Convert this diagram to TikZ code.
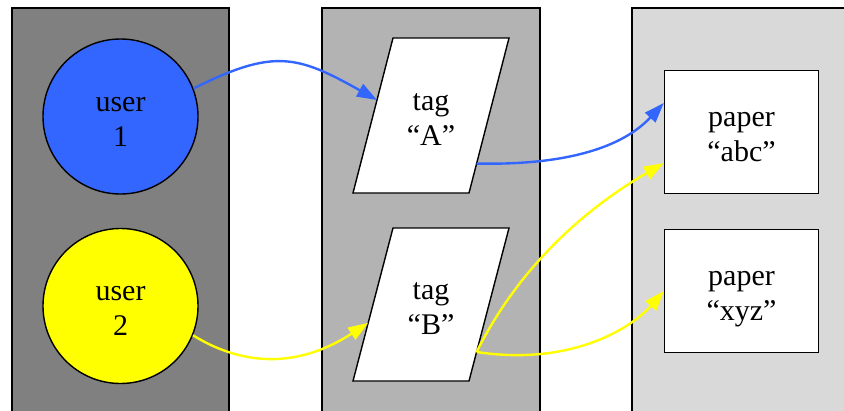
\documentclass[tikz,border=0pt]{standalone}
\usepackage{fontspec}
\setmainfont{Liberation Serif}
\usetikzlibrary{arrows.meta,calc}
\definecolor{colA}{HTML}{808080}
\definecolor{colB}{HTML}{B3B3B3}
\definecolor{colC}{HTML}{D9D9D9}
\definecolor{ublue}{HTML}{3366FF}
\definecolor{uyellow}{HTML}{FFFF00}
\begin{document}
\begin{tikzpicture}[x=1pt,y=-1pt,
  lane/.style={draw=black,line width=1.3pt},
  lbl/.style={align=center,font=\fontsize{30}{35}\selectfont,text=black,text height=59pt,text depth=0pt},
  usernode/.style={lbl,circle,draw=black,line width=1.4pt,minimum size=155pt,inner sep=0pt},
  tagbox/.style={draw=black,fill=white,line width=1.4pt,line join=miter},
  tagnode/.style={lbl,rectangle,inner sep=0pt},
  papernode/.style={lbl,rectangle,draw=black,fill=white,line width=1.4pt,minimum width=154pt,minimum height=123pt,inner sep=0pt},
  link/.style={line width=2.4pt,-{Triangle[length=20pt,width=14pt]}}
]
\clip (0,0) rectangle (844,410);
\draw[lane,fill=colA] (12,8) rectangle (229,430);
\draw[lane,fill=colB] (322,8) rectangle (540,430);
\draw[lane,fill=colC] (632,8) rectangle (870,430);

% tag parallelograms
\coordinate (tAtl) at (393,38);  \coordinate (tAtr) at (509,38);
\coordinate (tAbr) at (469,193); \coordinate (tAbl) at (353,193);
\coordinate (tBtl) at (393,228); \coordinate (tBtr) at (509,228);
\coordinate (tBbr) at (469,381); \coordinate (tBbl) at (353,381);
\draw[tagbox] (tAtl) -- (tAtr) -- (tAbr) -- (tAbl) -- cycle;
\draw[tagbox] (tBtl) -- (tBtr) -- (tBbr) -- (tBbl) -- cycle;

\node[usernode,fill=ublue] (u1) at (120.5,116.5) {user\\1};
\node[usernode,fill=uyellow] (u2) at (120.5,306) {user\\2};
\node[tagnode] (tA) at (431,115.5) {tag\\“A”};
\node[tagnode] (tB) at (431,304.5) {tag\\“B”};
\node[papernode] (pA) at (741.5,132) {paper\\“abc”};
\node[papernode] (pX) at (741.5,291) {paper\\“xyz”};

\coordinate (tAin) at ($(tAbl)!0.6!(tAtl)$);
\coordinate (tAout) at ($(tAbr)!0.19!(tAtr)$);
\coordinate (tBin) at ($(tBbl)!0.38!(tBtl)$);
\coordinate (tBout) at ($(tBbr)!0.19!(tBtr)$);

\draw[link,ublue] (u1.21) .. controls +(80,-40) and +(-80,-45) .. (tAin);
\draw[link,ublue] (tAout) .. controls +(93,2) and +(-40,43) .. ([yshift=29pt]pA.west);
\draw[link,uyellow] (u2.-22) .. controls +(60,37) and +(-60,39) .. (tBin);
\draw[link,uyellow] (tBout) .. controls +(50,-100) and +(-60,35) .. ([yshift=-31pt]pA.west);
\draw[link,uyellow] (tBout) .. controls +(90,14) and +(-35,40) .. (pX.west);
\end{tikzpicture}
\end{document}
